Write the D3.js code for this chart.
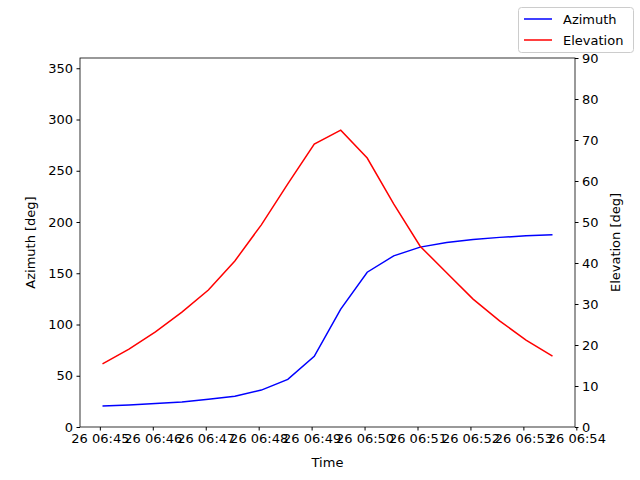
<!DOCTYPE html>
<html><head><meta charset="utf-8">
<script src="https://cdn.jsdelivr.net/npm/d3@7"></script>
<style>body{margin:0;background:#fff}text{font-family:"DejaVu Sans",sans-serif}</style>
</head><body><svg id="c" width="640" height="480"></svg>
<script>
const times=["06:45:03","06:45:33","06:46:03","06:46:33","06:47:03","06:47:33","06:48:03","06:48:33","06:49:03","06:49:33","06:50:03","06:50:33","06:51:03","06:51:33","06:52:03","06:52:33","06:53:03","06:53:33"];
const azimuth=[20.5,21.5,23,24.5,27,30,36,46.5,69,115,151,167,175.5,180,183,185,186.5,187.5];
const elevation=[15.4,19,23.2,28,33.4,40.5,49.3,59.3,69,72.4,65.6,54.4,44.1,37.6,31.2,25.9,21.2,17.3];
const tickLabels=["26 06:45","26 06:46","26 06:47","26 06:48","26 06:49","26 06:50","26 06:51","26 06:52","26 06:53","26 06:54"];
const leftTicks=[0,50,100,150,200,250,300,350];
const rightTicks=[0,10,20,30,40,50,60,70,80,90];

const toMin=s=>{const [h,m,sec]=s.split(":").map(Number);return h*60+m+sec/60;};
const xs=times.map(toMin);
const svg=d3.select("#c");
const L=80,R=575,T=58,B=427;
const x=d3.scaleLinear().domain([xs[0]-(xs[17]-xs[0])*0.05,xs[17]+(xs[17]-xs[0])*0.05]).range([L,R]);
const yl=d3.scaleLinear().domain([0,360]).range([B,T]);
const yr=d3.scaleLinear().domain([0,90]).range([B,T]);
const tickVals=tickLabels.map(t=>toMin(t.split(" ")[1]+":00"));
const fs="13px";
const gx=svg.append("g").attr("transform",`translate(0,${B})`).call(d3.axisBottom(x).tickValues(tickVals).tickFormat((d,i)=>tickLabels[i]).tickSizeOuter(0).tickSize(3.5).tickPadding(3.5));
const gl=svg.append("g").attr("transform",`translate(${L},0)`).call(d3.axisLeft(yl).tickValues(leftTicks).tickSizeOuter(0).tickSize(3.5).tickPadding(3.5));
const gr=svg.append("g").attr("transform",`translate(${R},0)`).call(d3.axisRight(yr).tickValues(rightTicks).tickSizeOuter(0).tickSize(3.5).tickPadding(3.5));
[gx,gl,gr].forEach(g=>{g.selectAll("text").style("font-size",fs).attr("fill","#000");g.select(".domain").remove();g.selectAll("line").attr("stroke","#000");});
svg.append("rect").attr("x",L).attr("y",T).attr("width",R-L).attr("height",B-T).attr("fill","none").attr("stroke","#000").attr("stroke-width",0.8);
const la=d3.line().x((d,i)=>x(xs[i])).y(d=>yl(d));
const le=d3.line().x((d,i)=>x(xs[i])).y(d=>yr(d));
svg.append("path").datum(azimuth).attr("d",la).attr("fill","none").attr("stroke","blue").attr("stroke-width",1.5);
svg.append("path").datum(elevation).attr("d",le).attr("fill","none").attr("stroke","red").attr("stroke-width",1.5);
svg.append("text").attr("x",(L+R)/2).attr("y",467).attr("text-anchor","middle").style("font-size",fs).text("Time");
svg.append("text").attr("transform",`translate(35,${(T+B)/2}) rotate(-90)`).attr("text-anchor","middle").style("font-size",fs).text("Azimuth [deg]");
svg.append("text").attr("transform",`translate(620,${(T+B)/2}) rotate(-90)`).attr("text-anchor","middle").style("font-size",fs).text("Elevation [deg]");
const lg=svg.append("g");
lg.append("rect").attr("x",518.5).attr("y",7.5).attr("width",115).attr("height",45).attr("rx",3).attr("fill","#fff").attr("stroke","#ccc");
[["Azimuth","blue",19],["Elevation","red",40]].forEach(([t,c,y])=>{
 lg.append("line").attr("x1",524).attr("x2",552).attr("y1",y).attr("y2",y).attr("stroke",c).attr("stroke-width",1.5);
 lg.append("text").attr("x",563).attr("y",y+4.5).style("font-size",fs).text(t);
});
</script></body></html>
